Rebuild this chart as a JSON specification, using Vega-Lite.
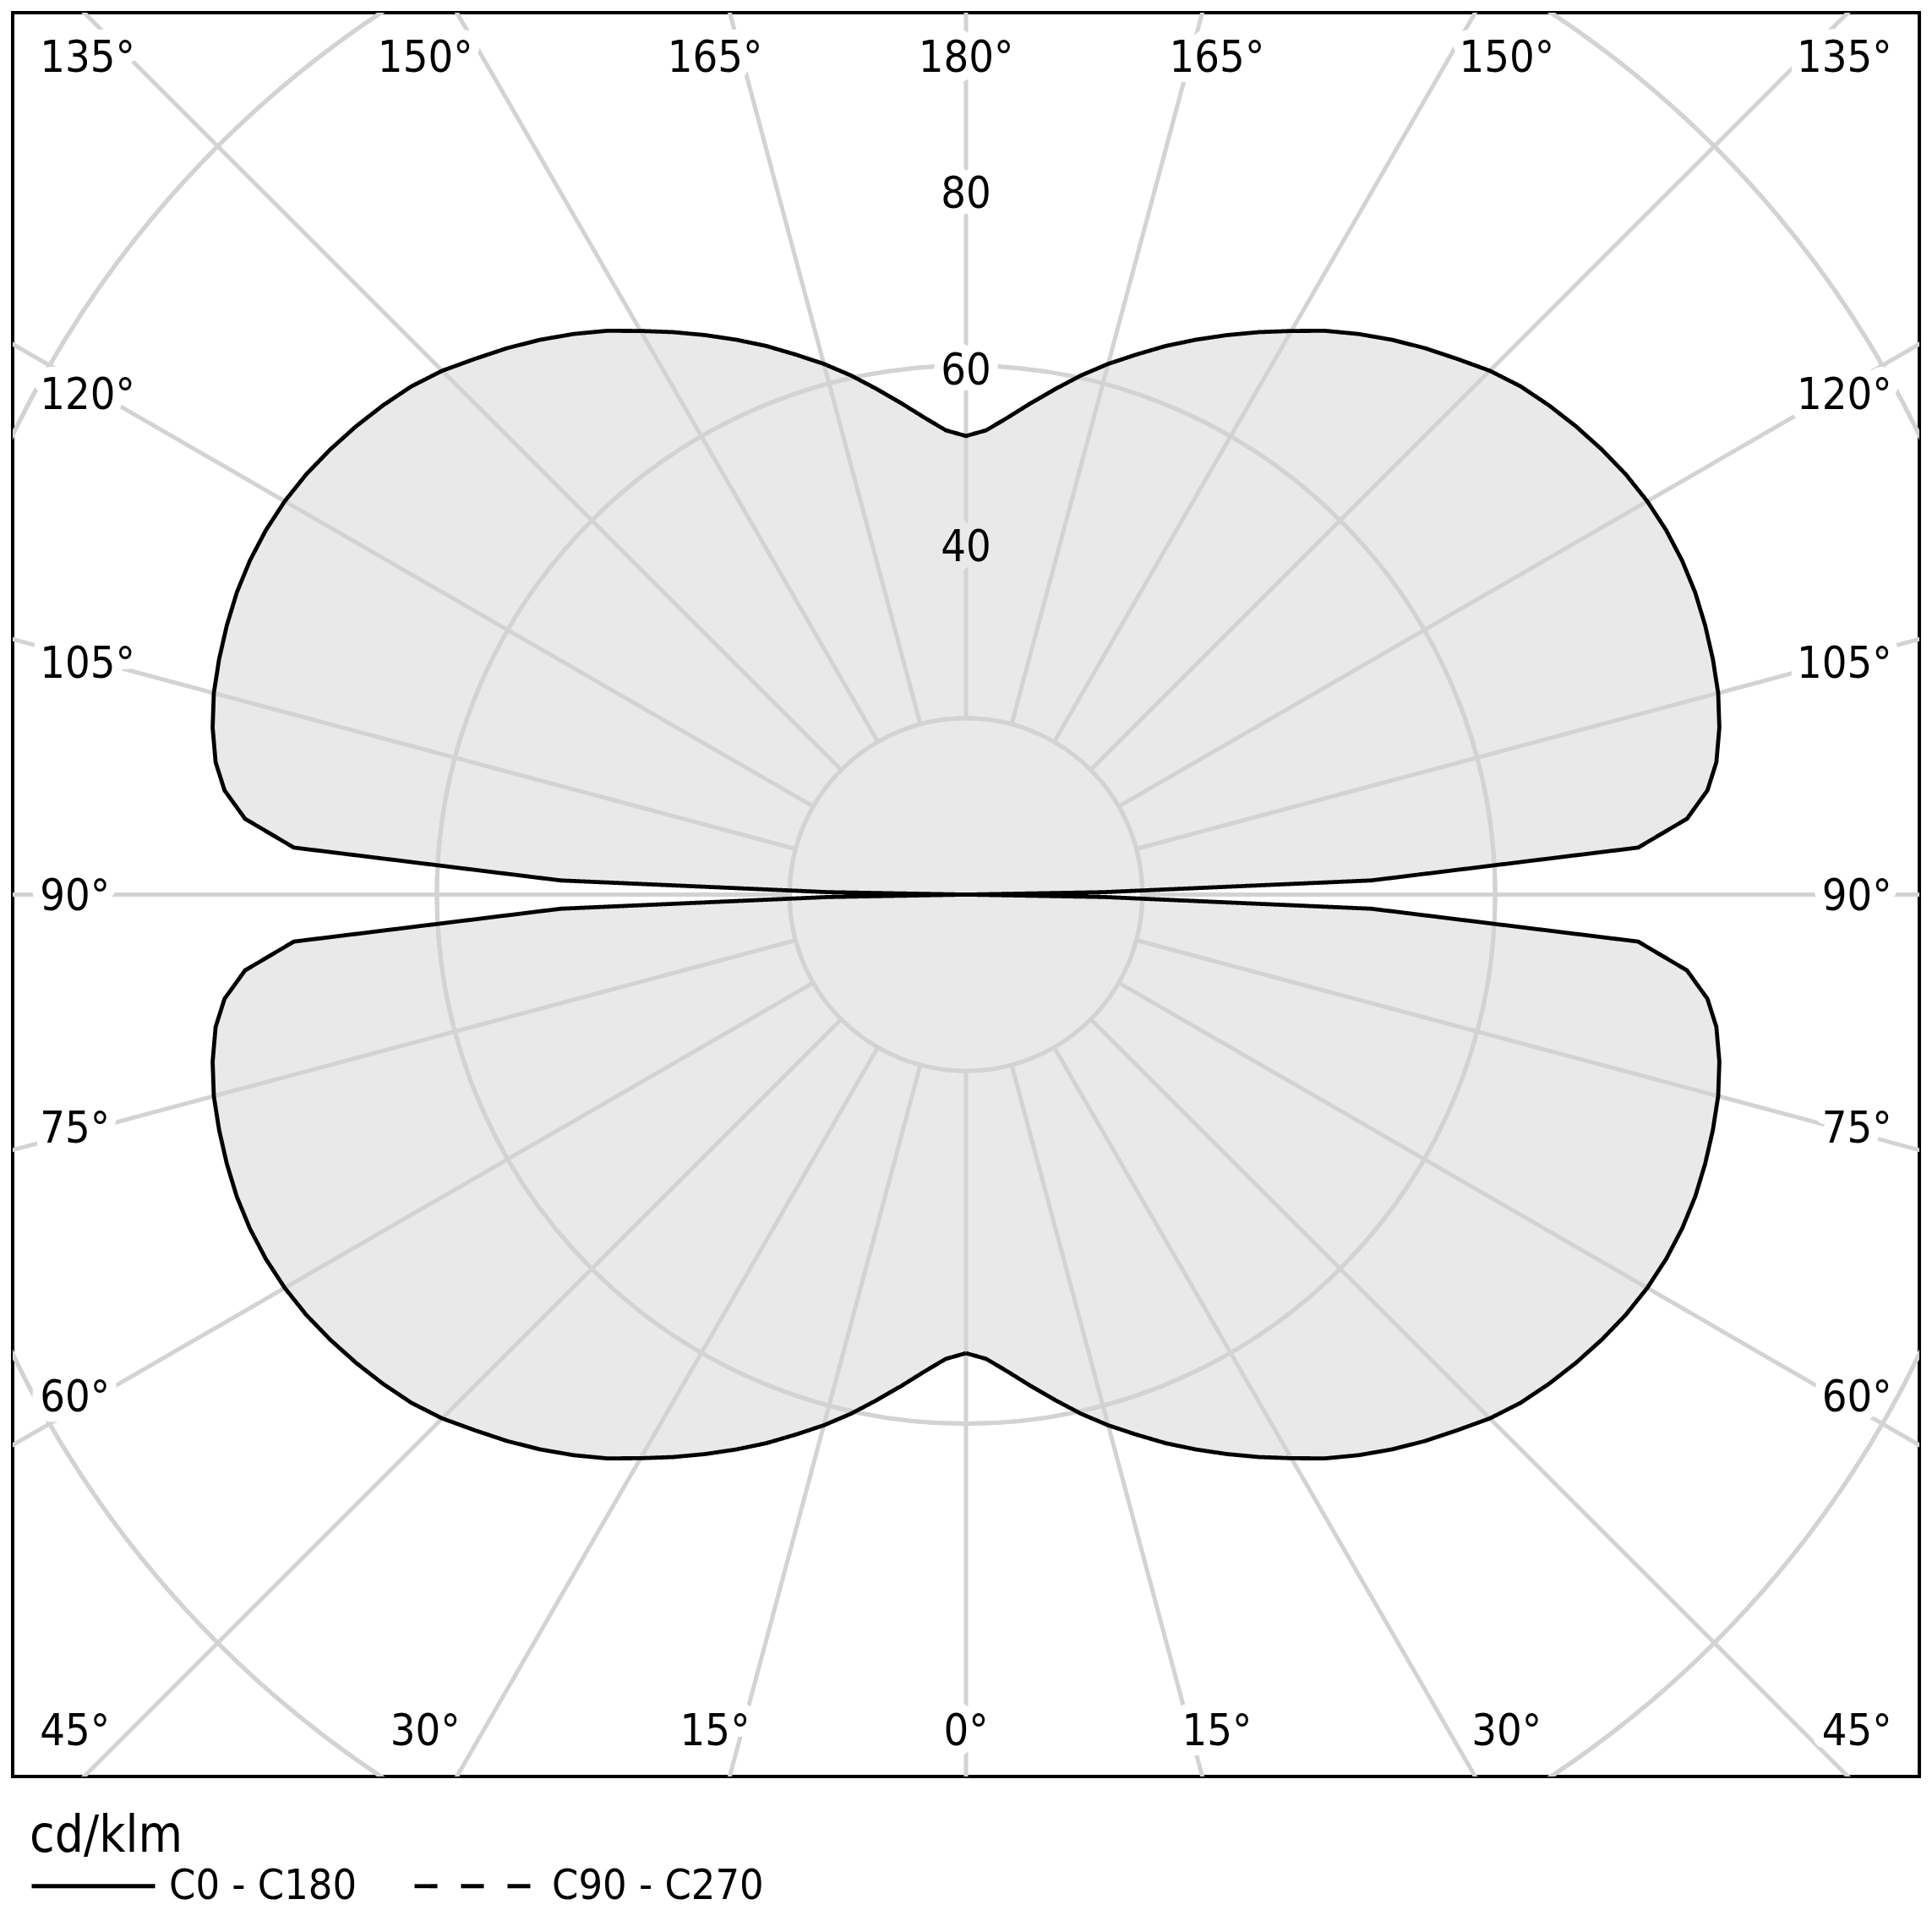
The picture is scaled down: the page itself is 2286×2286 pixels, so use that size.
{
  "$schema": "https://vega.github.io/schema/vega-lite/v6.json",
  "width": 2256,
  "height": 2087,
  "autosize": {"type": "none"},
  "padding": {"left": 15, "top": 15, "right": 15, "bottom": 184},
  "background": "white",
  "config": {"view": {"stroke": "black", "strokeWidth": 4}},
  "datasets": {
    "curve": [
      {"plane":"C0","gamma":0,"cd":52.0},{"plane":"C0","gamma":2.5,"cd":52.7},{"plane":"C0","gamma":5,"cd":54.3},{"plane":"C0","gamma":7.5,"cd":56.2},{"plane":"C0","gamma":10,"cd":58.2},{"plane":"C0","gamma":12.5,"cd":60.3},{"plane":"C0","gamma":15,"cd":62.3},{"plane":"C0","gamma":17.5,"cd":64.2},{"plane":"C0","gamma":20,"cd":66.2},{"plane":"C0","gamma":22.5,"cd":68.1},{"plane":"C0","gamma":25,"cd":70.0},{"plane":"C0","gamma":27.5,"cd":71.9},{"plane":"C0","gamma":30,"cd":73.8},{"plane":"C0","gamma":32.5,"cd":75.8},{"plane":"C0","gamma":35,"cd":77.6},{"plane":"C0","gamma":37.5,"cd":79.3},{"plane":"C0","gamma":40,"cd":80.9},{"plane":"C0","gamma":42.5,"cd":82.4},{"plane":"C0","gamma":45,"cd":84.0},{"plane":"C0","gamma":47.5,"cd":85.3},{"plane":"C0","gamma":50,"cd":86.3},{"plane":"C0","gamma":52.5,"cd":87.2},{"plane":"C0","gamma":55,"cd":88.0},{"plane":"C0","gamma":57.5,"cd":88.7},{"plane":"C0","gamma":60,"cd":89.2},{"plane":"C0","gamma":62.5,"cd":89.5},{"plane":"C0","gamma":65,"cd":89.6},{"plane":"C0","gamma":67.5,"cd":89.5},{"plane":"C0","gamma":70,"cd":89.2},{"plane":"C0","gamma":72.5,"cd":88.8},{"plane":"C0","gamma":75,"cd":88.3},{"plane":"C0","gamma":77.5,"cd":87.5},{"plane":"C0","gamma":80,"cd":86.4},{"plane":"C0","gamma":82,"cd":84.9},{"plane":"C0","gamma":84,"cd":82.2},{"plane":"C0","gamma":86,"cd":76.4},{"plane":"C0","gamma":88,"cd":46.0},{"plane":"C0","gamma":89,"cd":15.6},{"plane":"C0","gamma":90,"cd":0},
      {"plane":"C0","gamma":91,"cd":15.6},{"plane":"C0","gamma":92,"cd":46.0},{"plane":"C0","gamma":94,"cd":76.4},{"plane":"C0","gamma":96,"cd":82.2},{"plane":"C0","gamma":98,"cd":84.9},{"plane":"C0","gamma":100,"cd":86.4},{"plane":"C0","gamma":102.5,"cd":87.5},{"plane":"C0","gamma":105,"cd":88.3},{"plane":"C0","gamma":107.5,"cd":88.8},{"plane":"C0","gamma":110,"cd":89.2},{"plane":"C0","gamma":112.5,"cd":89.5},{"plane":"C0","gamma":115,"cd":89.6},{"plane":"C0","gamma":117.5,"cd":89.5},{"plane":"C0","gamma":120,"cd":89.2},{"plane":"C0","gamma":122.5,"cd":88.7},{"plane":"C0","gamma":125,"cd":88.0},{"plane":"C0","gamma":127.5,"cd":87.2},{"plane":"C0","gamma":130,"cd":86.3},{"plane":"C0","gamma":132.5,"cd":85.3},{"plane":"C0","gamma":135,"cd":84.0},{"plane":"C0","gamma":137.5,"cd":82.4},{"plane":"C0","gamma":140,"cd":80.9},{"plane":"C0","gamma":142.5,"cd":79.3},{"plane":"C0","gamma":145,"cd":77.6},{"plane":"C0","gamma":147.5,"cd":75.8},{"plane":"C0","gamma":150,"cd":73.8},{"plane":"C0","gamma":152.5,"cd":71.9},{"plane":"C0","gamma":155,"cd":70.0},{"plane":"C0","gamma":157.5,"cd":68.1},{"plane":"C0","gamma":160,"cd":66.2},{"plane":"C0","gamma":162.5,"cd":64.2},{"plane":"C0","gamma":165,"cd":62.3},{"plane":"C0","gamma":167.5,"cd":60.3},{"plane":"C0","gamma":170,"cd":58.2},{"plane":"C0","gamma":172.5,"cd":56.2},{"plane":"C0","gamma":175,"cd":54.3},{"plane":"C0","gamma":177.5,"cd":52.7},{"plane":"C0","gamma":180,"cd":52.0},
      {"plane":"C180","gamma":0,"cd":52.0},{"plane":"C180","gamma":2.5,"cd":52.7},{"plane":"C180","gamma":5,"cd":54.3},{"plane":"C180","gamma":7.5,"cd":56.2},{"plane":"C180","gamma":10,"cd":58.2},{"plane":"C180","gamma":12.5,"cd":60.3},{"plane":"C180","gamma":15,"cd":62.3},{"plane":"C180","gamma":17.5,"cd":64.2},{"plane":"C180","gamma":20,"cd":66.2},{"plane":"C180","gamma":22.5,"cd":68.1},{"plane":"C180","gamma":25,"cd":70.0},{"plane":"C180","gamma":27.5,"cd":71.9},{"plane":"C180","gamma":30,"cd":73.8},{"plane":"C180","gamma":32.5,"cd":75.8},{"plane":"C180","gamma":35,"cd":77.6},{"plane":"C180","gamma":37.5,"cd":79.3},{"plane":"C180","gamma":40,"cd":80.9},{"plane":"C180","gamma":42.5,"cd":82.4},{"plane":"C180","gamma":45,"cd":84.0},{"plane":"C180","gamma":47.5,"cd":85.3},{"plane":"C180","gamma":50,"cd":86.3},{"plane":"C180","gamma":52.5,"cd":87.2},{"plane":"C180","gamma":55,"cd":88.0},{"plane":"C180","gamma":57.5,"cd":88.7},{"plane":"C180","gamma":60,"cd":89.2},{"plane":"C180","gamma":62.5,"cd":89.5},{"plane":"C180","gamma":65,"cd":89.6},{"plane":"C180","gamma":67.5,"cd":89.5},{"plane":"C180","gamma":70,"cd":89.2},{"plane":"C180","gamma":72.5,"cd":88.8},{"plane":"C180","gamma":75,"cd":88.3},{"plane":"C180","gamma":77.5,"cd":87.5},{"plane":"C180","gamma":80,"cd":86.4},{"plane":"C180","gamma":82,"cd":84.9},{"plane":"C180","gamma":84,"cd":82.2},{"plane":"C180","gamma":86,"cd":76.4},{"plane":"C180","gamma":88,"cd":46.0},{"plane":"C180","gamma":89,"cd":15.6},{"plane":"C180","gamma":90,"cd":0},
      {"plane":"C180","gamma":91,"cd":15.6},{"plane":"C180","gamma":92,"cd":46.0},{"plane":"C180","gamma":94,"cd":76.4},{"plane":"C180","gamma":96,"cd":82.2},{"plane":"C180","gamma":98,"cd":84.9},{"plane":"C180","gamma":100,"cd":86.4},{"plane":"C180","gamma":102.5,"cd":87.5},{"plane":"C180","gamma":105,"cd":88.3},{"plane":"C180","gamma":107.5,"cd":88.8},{"plane":"C180","gamma":110,"cd":89.2},{"plane":"C180","gamma":112.5,"cd":89.5},{"plane":"C180","gamma":115,"cd":89.6},{"plane":"C180","gamma":117.5,"cd":89.5},{"plane":"C180","gamma":120,"cd":89.2},{"plane":"C180","gamma":122.5,"cd":88.7},{"plane":"C180","gamma":125,"cd":88.0},{"plane":"C180","gamma":127.5,"cd":87.2},{"plane":"C180","gamma":130,"cd":86.3},{"plane":"C180","gamma":132.5,"cd":85.3},{"plane":"C180","gamma":135,"cd":84.0},{"plane":"C180","gamma":137.5,"cd":82.4},{"plane":"C180","gamma":140,"cd":80.9},{"plane":"C180","gamma":142.5,"cd":79.3},{"plane":"C180","gamma":145,"cd":77.6},{"plane":"C180","gamma":147.5,"cd":75.8},{"plane":"C180","gamma":150,"cd":73.8},{"plane":"C180","gamma":152.5,"cd":71.9},{"plane":"C180","gamma":155,"cd":70.0},{"plane":"C180","gamma":157.5,"cd":68.1},{"plane":"C180","gamma":160,"cd":66.2},{"plane":"C180","gamma":162.5,"cd":64.2},{"plane":"C180","gamma":165,"cd":62.3},{"plane":"C180","gamma":167.5,"cd":60.3},{"plane":"C180","gamma":170,"cd":58.2},{"plane":"C180","gamma":172.5,"cd":56.2},{"plane":"C180","gamma":175,"cd":54.3},{"plane":"C180","gamma":177.5,"cd":52.7},{"plane":"C180","gamma":180,"cd":52.0}
    ],
    "rings": [{"r":20},{"r":40},{"r":60},{"r":80},{"r":100},{"r":120},{"r":140}],
    "rays": [{"a":0},{"a":15},{"a":30},{"a":45},{"a":60},{"a":75},{"a":90},{"a":105},{"a":120},{"a":135},{"a":150},{"a":165},{"a":180},{"a":195},{"a":210},{"a":225},{"a":240},{"a":255},{"a":270},{"a":285},{"a":300},{"a":315},{"a":330},{"a":345}],
    "ringLabels": [{"r":40},{"r":60},{"r":80}]
  },
  "layer": [
    {
      "data": {"name": "curve"},
      "transform": [
        {"calculate": "datum.plane == 'C0' ? datum.gamma : 360 - datum.gamma", "as": "ord"},
        {"calculate": "(datum.plane == 'C0' ? 1 : -1) * datum.cd * sin(datum.gamma * PI / 180)", "as": "x"},
        {"calculate": "-datum.cd * cos(datum.gamma * PI / 180)", "as": "y"}
      ],
      "mark": {"type": "line", "fill": "#e9e9e9", "strokeOpacity": 0, "clip": true},
      "encoding": {
        "x": {"field": "x", "type": "quantitative", "scale": {"domain": [-108.1, 108.1], "nice": false, "zero": false}, "axis": null},
        "y": {"field": "y", "type": "quantitative", "scale": {"domain": [-100, 100], "nice": false, "zero": false}, "axis": null},
        "order": {"field": "ord", "type": "quantitative"}
      }
    },
    {
      "data": {"name": "rings"},
      "mark": {"type": "arc", "theta": 0, "theta2": 6.2832, "filled": false, "stroke": "#d3d3d3", "strokeWidth": 5, "clip": true},
      "encoding": {
        "radius": {"field": "r", "type": "quantitative", "scale": {"type": "linear", "domain": [0, 100], "range": [0, 1043.5], "zero": true}}
      }
    },
    {
      "data": {"name": "rays"},
      "transform": [
        {"calculate": "20 * sin(datum.a * PI / 180)", "as": "x1"},
        {"calculate": "-20 * cos(datum.a * PI / 180)", "as": "y1"},
        {"calculate": "170 * sin(datum.a * PI / 180)", "as": "x2"},
        {"calculate": "-170 * cos(datum.a * PI / 180)", "as": "y2"}
      ],
      "mark": {"type": "rule", "stroke": "#d3d3d3", "strokeWidth": 5, "clip": true},
      "encoding": {
        "x": {"field": "x1", "type": "quantitative", "scale": {"domain": [-108.1, 108.1], "nice": false, "zero": false}, "axis": null},
        "y": {"field": "y1", "type": "quantitative", "scale": {"domain": [-100, 100], "nice": false, "zero": false}, "axis": null},
        "x2": {"field": "x2"},
        "y2": {"field": "y2"}
      }
    },
    {
      "data": {"name": "curve"},
      "transform": [
        {"calculate": "datum.plane == 'C0' ? datum.gamma : 360 - datum.gamma", "as": "ord"},
        {"calculate": "(datum.plane == 'C0' ? 1 : -1) * datum.cd * sin(datum.gamma * PI / 180)", "as": "x"},
        {"calculate": "-datum.cd * cos(datum.gamma * PI / 180)", "as": "y"},
        {"calculate": "'C0 - C180'", "as": "series"}
      ],
      "mark": {"type": "line", "stroke": "black", "strokeWidth": 4.8, "clip": true},
      "encoding": {
        "x": {"field": "x", "type": "quantitative", "scale": {"domain": [-108.1, 108.1], "nice": false, "zero": false}, "axis": null},
        "y": {"field": "y", "type": "quantitative", "scale": {"domain": [-100, 100], "nice": false, "zero": false}, "axis": null},
        "order": {"field": "ord", "type": "quantitative"},
        "strokeDash": {
          "field": "series", "type": "nominal",
          "scale": {"domain": ["C0 - C180", "C90 - C270"], "range": [[1, 0], [27, 28]]},
          "legend": {
            "orient": "none", "legendX": 20, "legendY": 2129, "direction": "horizontal",
            "title": "cd/klm", "titleFontSize": 60, "titleFontWeight": "normal", "titleColor": "black",
            "titleFont": "DejaVu Sans Condensed, DejaVu Sans", "titlePadding": -48, "titleLimit": 0,
            "labelFontSize": 50, "labelFont": "DejaVu Sans Condensed, DejaVu Sans", "labelColor": "black", "labelLimit": 0,
            "symbolType": "stroke", "symbolSize": 21316, "symbolStrokeWidth": 4.8, "symbolStrokeColor": "black",
            "labelOffset": 14, "columnPadding": 57, "padding": 0
          }
        }
      }
    },
    {
      "data": {"name": "ringLabels"},
      "transform": [{"calculate": "'' + datum.r", "as": "txt"}],
      "encoding": {
        "x": {"datum": 0, "type": "quantitative", "scale": {"domain": [-108.1, 108.1], "nice": false, "zero": false}, "axis": null},
        "y": {"field": "r", "type": "quantitative", "scale": {"domain": [-100, 100], "nice": false, "zero": false}, "axis": null},
        "text": {"field": "txt"}
      },
      "layer": [
        {
          "mark": {"type": "text", "font": "DejaVu Sans Condensed, DejaVu Sans", "fontSize": 52, "align": "center", "baseline": "alphabetic", "dy": 22.5, "strokeWidth": 22, "strokeJoin": "round"},
          "encoding": {
            "stroke": {"condition": {"test": "datum.r == 40", "value": "#e9e9e9"}, "value": "white"},
            "fill": {"condition": {"test": "datum.r == 40", "value": "#e9e9e9"}, "value": "white"}
          }
        },
        {
          "mark": {"type": "text", "font": "DejaVu Sans Condensed, DejaVu Sans", "fontSize": 52, "align": "center", "baseline": "alphabetic", "dy": 22.5, "fill": "black"}
        }
      ]
    },
    {
      "data": {"name": "rays"},
      "transform": [
        {"calculate": "sin(datum.a * PI / 180)", "as": "sx"},
        {"calculate": "-cos(datum.a * PI / 180)", "as": "sy"},
        {"calculate": "(datum.a <= 180 ? datum.a : 360 - datum.a) + '°'", "as": "txt"},
        {"calculate": "abs(datum.sx) < 0.7 ? 'C' : (datum.sx > 0 ? 'R' : 'L')", "as": "grp"},
        {"calculate": "datum.grp == 'C' ? 106.2 * datum.sx / abs(datum.sy) : (datum.sx > 0 ? 105 : -105)", "as": "lx"},
        {"calculate": "(abs(datum.sx) < 0.7 || abs(abs(datum.sx) - abs(datum.sy)) < 0.01) ? (datum.sy > 0 ? 93.3 : -96.45) : 98.5 * datum.sy / abs(datum.sx) - 1.77", "as": "ly"}
      ],
      "encoding": {
        "x": {"field": "lx", "type": "quantitative", "scale": {"domain": [-108.1, 108.1], "nice": false, "zero": false}, "axis": null},
        "y": {"field": "ly", "type": "quantitative", "scale": {"domain": [-100, 100], "nice": false, "zero": false}, "axis": null},
        "text": {"field": "txt"}
      },
      "layer": [
        {"transform": [{"filter": "datum.grp == 'C'"}], "mark": {"type": "text", "font": "DejaVu Sans Condensed, DejaVu Sans", "fontSize": 52, "align": "center", "baseline": "alphabetic", "fill": "white", "stroke": "white", "strokeWidth": 24, "strokeJoin": "round"}},
        {"transform": [{"filter": "datum.grp == 'C'"}], "mark": {"type": "text", "font": "DejaVu Sans Condensed, DejaVu Sans", "fontSize": 52, "align": "center", "baseline": "alphabetic", "fill": "black"}},
        {"transform": [{"filter": "datum.grp == 'L'"}], "mark": {"type": "text", "font": "DejaVu Sans Condensed, DejaVu Sans", "fontSize": 52, "align": "left", "baseline": "alphabetic", "fill": "white", "stroke": "white", "strokeWidth": 24, "strokeJoin": "round"}},
        {"transform": [{"filter": "datum.grp == 'L'"}], "mark": {"type": "text", "font": "DejaVu Sans Condensed, DejaVu Sans", "fontSize": 52, "align": "left", "baseline": "alphabetic", "fill": "black"}},
        {"transform": [{"filter": "datum.grp == 'R'"}], "mark": {"type": "text", "font": "DejaVu Sans Condensed, DejaVu Sans", "fontSize": 52, "align": "right", "baseline": "alphabetic", "fill": "white", "stroke": "white", "strokeWidth": 24, "strokeJoin": "round"}},
        {"transform": [{"filter": "datum.grp == 'R'"}], "mark": {"type": "text", "font": "DejaVu Sans Condensed, DejaVu Sans", "fontSize": 52, "align": "right", "baseline": "alphabetic", "fill": "black"}}
      ]
    }
  ]
}
